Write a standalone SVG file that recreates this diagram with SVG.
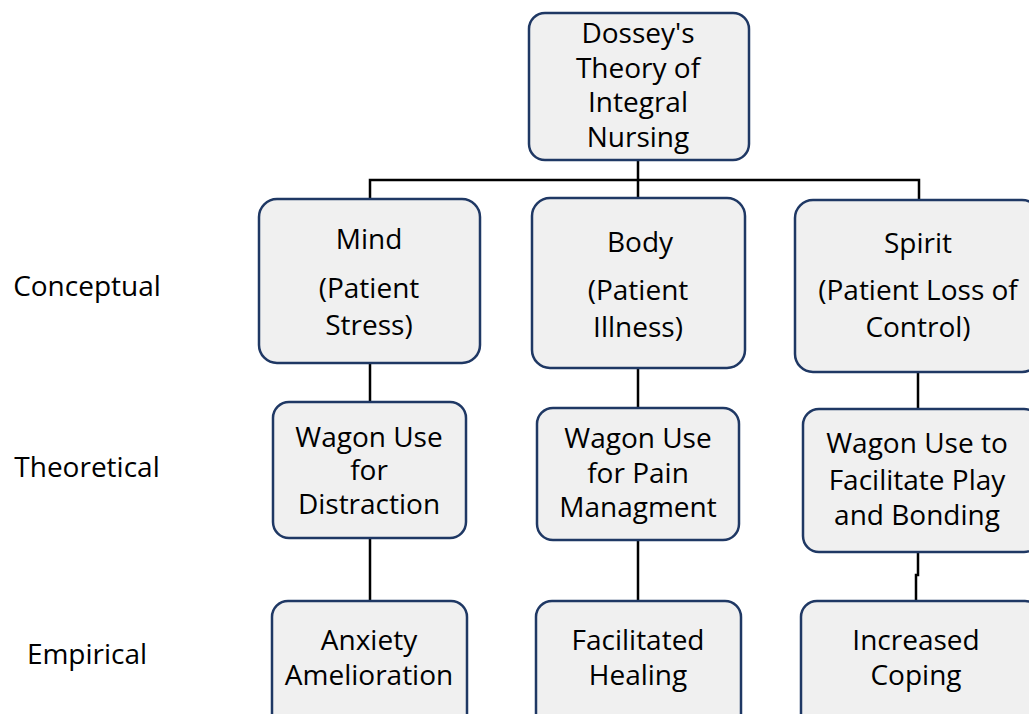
<svg xmlns="http://www.w3.org/2000/svg" width="1029" height="714" viewBox="0 0 1029 714">
<style>
.box{fill:#f0f0f0;stroke:#1f3864;stroke-width:2.5}
.t{font-family:"Open Sans","Liberation Sans",sans-serif;font-size:28px;fill:#000;text-anchor:middle}
.lbl{font-family:"Open Sans","Liberation Sans",sans-serif;font-size:28px;fill:#000;text-anchor:middle}
.c{fill:none;stroke:#000;stroke-width:2.5}
</style>
<rect width="1029" height="714" fill="#fff"/>
<g id="connectors">
<path class="c" d="M638,160 V180 M370,199 V180 H919 V200 M638,180 V198"/>
<path class="c" d="M370,363 V402 M370,538 V601"/>
<path class="c" d="M638,368 V408 M638,540 V601"/>
<path class="c" d="M918,372 V409 M918,552 V575 H916 V601"/>
</g>
<g id="label-conceptual"><text class="lbl" x="87" y="296">Conceptual</text></g>
<g id="label-theoretical"><text class="lbl" x="87" y="477">Theoretical</text></g>
<g id="label-empirical"><text class="lbl" x="87" y="664">Empirical</text></g>
<g id="node-root">
<rect class="box" x="529" y="13" width="220" height="147" rx="16"/>
<text class="t" x="638" y="43">Dossey's</text>
<text class="t" x="638" y="78">Theory of</text>
<text class="t" x="638" y="112">Integral</text>
<text class="t" x="638" y="147">Nursing</text>
</g>
<g id="node-mind">
<rect class="box" x="259" y="199" width="221" height="164" rx="18"/>
<text class="t" x="369" y="249">Mind</text>
<text class="t" x="369" y="298">(Patient</text>
<text class="t" x="369" y="335">Stress)</text>
</g>
<g id="node-body">
<rect class="box" x="532" y="198" width="213" height="170" rx="18"/>
<text class="t" x="640" y="252">Body</text>
<text class="t" x="638" y="300">(Patient</text>
<text class="t" x="638" y="337">Illness)</text>
</g>
<g id="node-spirit">
<rect class="box" x="795" y="200" width="245" height="172" rx="18"/>
<text class="t" x="918" y="253">Spirit</text>
<text class="t" x="918" y="300">(Patient Loss of</text>
<text class="t" x="918" y="337">Control)</text>
</g>
<g id="node-distraction">
<rect class="box" x="273" y="402" width="193" height="136" rx="16"/>
<text class="t" x="369" y="447">Wagon Use</text>
<text class="t" x="369" y="480">for</text>
<text class="t" x="369" y="514">Distraction</text>
</g>
<g id="node-pain">
<rect class="box" x="537" y="408" width="202" height="132" rx="16"/>
<text class="t" x="638" y="448">Wagon Use</text>
<text class="t" x="638" y="483">for Pain</text>
<text class="t" x="638" y="517">Managment</text>
</g>
<g id="node-play">
<rect class="box" x="803" y="409" width="237" height="143" rx="16"/>
<text class="t" x="917" y="453">Wagon Use to</text>
<text class="t" x="917" y="490">Facilitate Play</text>
<text class="t" x="917" y="525">and Bonding</text>
</g>
<g id="node-anxiety">
<rect class="box" x="272" y="601" width="195" height="130" rx="16"/>
<text class="t" x="369" y="650">Anxiety</text>
<text class="t" x="369" y="685">Amelioration</text>
</g>
<g id="node-healing">
<rect class="box" x="536" y="601" width="205" height="130" rx="16"/>
<text class="t" x="638" y="650">Facilitated</text>
<text class="t" x="638" y="685">Healing</text>
</g>
<g id="node-coping">
<rect class="box" x="801" y="601" width="240" height="130" rx="16"/>
<text class="t" x="916" y="650">Increased</text>
<text class="t" x="916" y="685">Coping</text>
</g>
</svg>
